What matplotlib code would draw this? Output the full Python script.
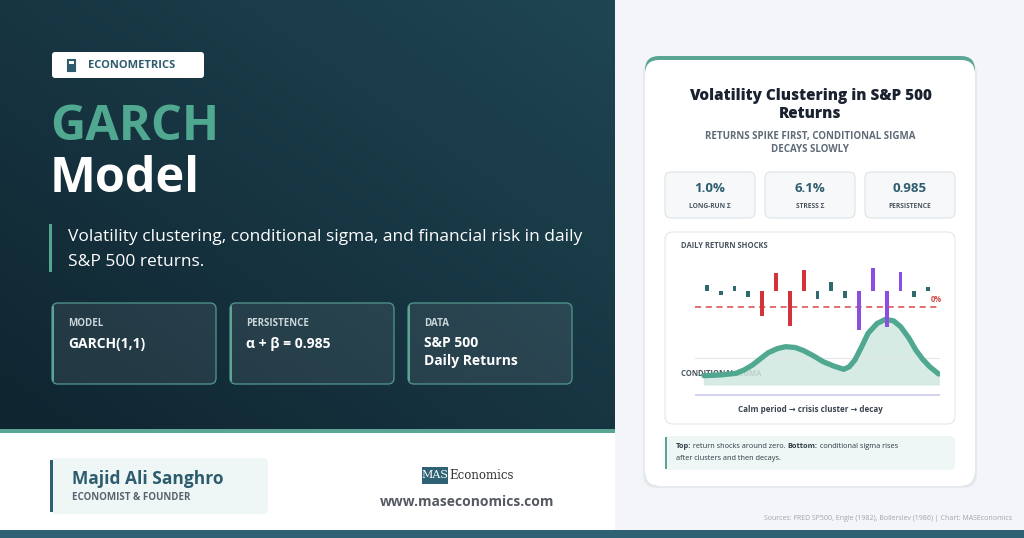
import numpy as np
import matplotlib.pyplot as plt
from matplotlib.patches import FancyBboxPatch, Rectangle

# shock bars: day index, return shock (arbitrary units, + up)
shock_day = list(range(17))
shock_val = [17, -14, 14, -18, -75, 54, -105, 62, -24, 25, -21, -118, 69, -108, 55, -18, 12]
shock_col = ['#2f6a6e'] * 4 + ['#d3343b'] * 4 + ['#2f6a6e'] * 3 + ['#8a4fe0'] * 4 + ['#2f6a6e'] * 2

# conditional sigma (%)
sig_day = [-0.2, 1.0, 2.1, 2.7, 3.3, 3.9, 4.45, 5.1, 5.7, 6.4, 7.0, 7.7, 8.4, 9.2, 9.9, 10.3, 10.7,
           11.2, 11.65, 12.3, 12.9, 13.5, 14.0, 14.6, 15.1, 15.6, 16.1, 16.75]
sig_val = [0.81, 0.88, 1.03, 1.35, 1.81, 2.42, 2.97, 3.35, 3.53, 3.45, 3.16, 2.68, 2.13, 1.70, 1.41,
           1.65, 2.28, 3.55, 4.78, 5.70, 6.09, 5.95, 5.41, 4.35, 3.22, 2.35, 1.66, 0.97]

stats_val = ['1.0%', '6.1%', '0.985']
stats_lab = ['LONG-RUN Σ', 'STRESS Σ', 'PERSISTENCE']
box_lab = ['MODEL', 'PERSISTENCE', 'DATA']
box_val = ['GARCH(1,1)', 'α + β = 0.985', 'S&P 500\nDaily Returns']

plt.rcParams['font.family'] = ['Open Sans', 'DejaVu Sans']
fig = plt.figure(figsize=(10.24, 5.38), dpi=100)
bg = fig.add_axes([0, 0, 1, 1])
bg.set_xlim(0, 1024)
bg.set_ylim(538, 0)
bg.axis('off')

def rbox(x, y, w, h, fc, ec='none', lw=0, r=6, z=1, alpha=1):
    bg.add_patch(FancyBboxPatch((x, y), w, h, boxstyle=f'round,pad=0,rounding_size={r}',
                                fc=fc, ec=ec, lw=lw, zorder=z, alpha=alpha))

# backgrounds
bg.add_patch(Rectangle((615, 0), 409, 530, fc='#f3f5f8', zorder=0))
bg.add_patch(Rectangle((0, 430), 615, 100, fc='white', zorder=0))
grad = np.linspace(0, 1, 256)[None, :] * 0.5 + np.linspace(1, 0, 256)[:, None] * 0.5
bg.imshow(grad, extent=[0, 615, 430, 0], cmap=plt.matplotlib.colors.LinearSegmentedColormap.from_list(
    'g', ['#0f2530', '#1f4553']), aspect='auto', zorder=0.5)
bg.add_patch(Rectangle((0, 429), 615, 4, fc='#5aa594', zorder=2))
bg.add_patch(Rectangle((0, 530), 1024, 8, fc='#2d6173', zorder=2))

# left panel
rbox(52, 52, 152, 26, 'white', r=3, z=2)
bg.add_patch(Rectangle((67, 59), 8, 12, fc='#2d5c6e', ec='#2d5c6e', lw=0.8, zorder=3))
bg.add_patch(Rectangle((68.5, 60.5), 5, 3, fc='white', zorder=4))
bg.text(88, 65.5, 'ECONOMETRICS', color='#2d5c6e', fontsize=8, fontweight='bold', va='center', zorder=3)
bg.text(50, 128, 'GARCH', color='#4fa88f', fontsize=35, fontweight='bold', va='center')
bg.text(50, 180, 'Model', color='white', fontsize=35, fontweight='bold', va='center')
bg.add_patch(Rectangle((49, 224), 3, 48, fc='#4fa88f'))
bg.text(68, 237, 'Volatility clustering, conditional sigma, and financial risk in daily',
        color='white', fontsize=12.5, va='center')
bg.text(68, 262, 'S&P 500 returns.', color='white', fontsize=12.5, va='center')
for i, (lab, val) in enumerate(zip(box_lab, box_val)):
    x0 = 52 + i * 178
    rbox(x0, 303, 164, 81, 'white', r=6, z=2, alpha=0.08)
    rbox(x0, 303, 164, 81, 'none', ec='#4f8f88', lw=1, r=6, z=2)
    bg.add_patch(Rectangle((x0, 306), 2, 75, fc='#5aa594', zorder=3))
    bg.text(x0 + 16, 323, lab, color='#c9d6da', fontsize=7, fontweight='bold', va='center', zorder=3)
    bg.text(x0 + 16, 344 if '\n' not in val else 352, val, color='white', fontsize=10,
            fontweight='bold', va='center', linespacing=1.3, zorder=3)

# footer
rbox(50, 458, 218, 56, '#eef7f5', r=5, z=1)
bg.add_patch(Rectangle((50, 460), 2.5, 52, fc='#2d6173', zorder=2))
bg.text(72, 479, 'Majid Ali Sanghro', color='#2d5c6e', fontsize=12.5, fontweight='bold', va='center')
bg.text(72, 498, 'ECONOMIST & FOUNDER', color='#5a6470', fontsize=7, fontweight='bold', va='center')
bg.add_patch(Rectangle((422, 467), 26, 17, fc='#2d6173', zorder=2))
bg.text(435, 475.5, 'MAS', color='white', fontsize=8, family='DejaVu Serif', ha='center', va='center', zorder=3)
bg.text(449, 475.5, 'Economics', color='#333333', fontsize=8.5, family='DejaVu Serif', va='center')
bg.text(467, 502, 'www.maseconomics.com', color='#555a62', fontsize=10, fontweight='bold', ha='center', va='center')
bg.text(1012, 518, 'Sources: FRED SP500, Engle (1982), Bollerslev (1986) | Chart: MASEconomics',
        color='#a0a6ae', fontsize=5, ha='right', va='center')

# card
rbox(643, 60, 334, 428, '#e6e9ee', r=14, z=1)
rbox(645, 56, 330, 430, '#5aa594', r=14, z=2)
rbox(645, 60, 330, 426, 'white', r=14, z=2)
bg.text(810, 96, 'Volatility Clustering in S&P 500', color='#1a2230', fontsize=11, fontweight='heavy', ha='center', va='center', zorder=3)
bg.text(810, 114, 'Returns', color='#1a2230', fontsize=11, fontweight='heavy', ha='center', va='center', zorder=3)
bg.text(810, 136, 'RETURNS SPIKE FIRST, CONDITIONAL SIGMA', color='#5f6b78', fontsize=7, fontweight='bold', ha='center', va='center', zorder=3)
bg.text(810, 150, 'DECAYS SLOWLY', color='#5f6b78', fontsize=7, fontweight='bold', ha='center', va='center', zorder=3)
for i, (v, l) in enumerate(zip(stats_val, stats_lab)):
    x0 = 665 + i * 100
    rbox(x0, 172, 90, 46, '#f6f8f9', ec='#dde3e6', lw=0.8, r=6, z=3)
    bg.text(x0 + 45, 188, v, color='#2d5c6e', fontsize=9.5, fontweight='bold', ha='center', va='center', zorder=4)
    bg.text(x0 + 45, 206, l, color='#4a5560', fontsize=4.8, fontweight='bold', ha='center', va='center', zorder=4)
rbox(665, 232, 290, 192, 'white', ec='#e3e7ea', lw=0.8, r=8, z=3)
bg.text(681, 245, 'DAILY RETURN SHOCKS', color='#4a5560', fontsize=5.5, fontweight='bold', va='center', zorder=4)
bg.text(681, 373, 'CONDITIONAL SIGMA', color='#4a5560', fontsize=5.5, fontweight='bold', va='center', zorder=4)
bg.text(810, 410, 'Calm period → crisis cluster → decay', color='#3a4350', fontsize=5.8, fontweight='bold', ha='center', va='center', zorder=4)
rbox(665, 436, 290, 34, '#eef7f5', r=5, z=3)
bg.add_patch(Rectangle((665, 437), 2, 32, fc='#5aa594', zorder=4))
note = [('Top:', True), (' return shocks around zero. ', False), ('Bottom:', True),
        (' conditional sigma rises', False)]
tx = 676
for s, b in note:
    t = bg.text(tx, 446, s, color='#2d3a44', fontsize=5.3, va='center', zorder=4,
                fontweight='bold' if b else 'normal')
    bb = t.get_window_extent(renderer=fig.canvas.get_renderer())
    tx += bb.width
bg.text(676, 459, 'after clusters and then decays.', color='#2d3a44', fontsize=5.3, va='center', zorder=4)

# chart inset: pixel x 695-940, y 263-397
ax = fig.add_axes([695 / 1024, 1 - 397 / 538, 245 / 1024, 134 / 538], zorder=5)
ax.patch.set_alpha(0)
ax.set_xlim(-0.85, 16.85)
base = -281
scale = 32
ax.set_ylim(-319, 83)
ax.axis('off')
ax.axhline(-50, color='#d24a4a', lw=1.1, ls=(0, (4, 3)))
ax.axhline(-203, color='#e3e6ea', lw=0.8)
ax.axhline(-313, color='#c7c9ee', lw=1.2)
for d, v, c in zip(shock_day, shock_val, shock_col):
    ax.bar(d, v, width=0.28, color=c, zorder=3)
sy = [base + s * scale for s in sig_val]
ax.fill_between(sig_day, sy, base, color='#cfe8df', alpha=0.85, zorder=1)
ax.plot(sig_day, sy, color='#4fa88f', lw=3.8, solid_capstyle='round', solid_joinstyle='round', zorder=2)
ax.text(16.6, -40, '0%', color='#d24a4a', fontsize=5.5, fontweight='bold', ha='center', va='bottom')

fig.savefig('out.png', dpi=100)
